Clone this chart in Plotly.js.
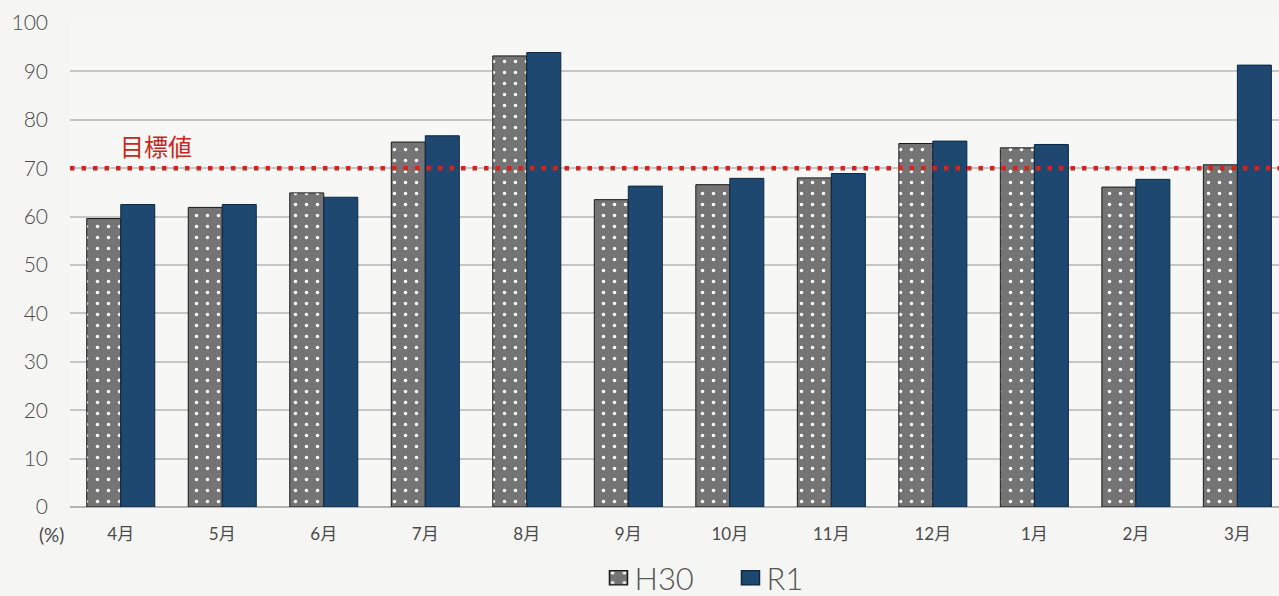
<!DOCTYPE html>
<html>
<head>
<meta charset="utf-8">
<script src="https://cdn.plot.ly/plotly-3.0.1.min.js"></script>
<style>
  html, body { margin: 0; padding: 0; background: #f5f5f3; }
  #chart { width: 1279px; height: 596px; }
</style>
</head>
<body>
<div id="chart"></div>
<script>
// 月別の達成率（%）
const months = ['4月', '5月', '6月', '7月', '8月', '9月', '10月', '11月', '12月', '1月', '2月', '3月'];
const h30 = [59.6, 61.9, 64.9, 75.4, 93.2, 63.5, 66.6, 68.0, 75.1, 74.2, 66.1, 70.7];
const r1 = [62.5, 62.5, 64.0, 76.7, 93.9, 66.3, 67.9, 68.9, 75.6, 74.9, 67.7, 91.3];
const target = 70;
const yTicks = [0, 10, 20, 30, 40, 50, 60, 70, 80, 90, 100];

const tickFont = { family: 'Lato, "Noto Sans CJK JP", sans-serif', color: '#4a4a4a' };

const traces = [
  {
    type: 'bar',
    name: 'H30',
    x: months,
    y: h30,
    marker: {
      color: '#7a7a7a',
      line: { color: '#1a1a1a', width: 1 },
      pattern: { shape: '.', bgcolor: '#747474', fgcolor: '#ffffff', size: 11, solidity: 0.08 }
    },
    hoverinfo: 'x+y+name'
  },
  {
    type: 'bar',
    name: 'R1',
    x: months,
    y: r1,
    marker: {
      color: '#1e4870',
      line: { color: '#0d2740', width: 1 }
    },
    hoverinfo: 'x+y+name'
  }
];

const layout = {
  width: 1279,
  height: 596,
  margin: { l: 70, r: 0, t: 23, b: 89 },
  paper_bgcolor: '#f5f5f3',
  plot_bgcolor: '#f7f7f5',
  barmode: 'group',
  bargap: 0.33,
  bargroupgap: 0,
  showlegend: true,
  legend: {
    orientation: 'h',
    x: 0.543, xanchor: 'center',
    yref: 'container', y: 0.03, yanchor: 'middle',
    font: { family: 'Lato, "Noto Sans", sans-serif', size: 31, weight: 300, color: '#555555' },
    entrywidth: 87,
    bgcolor: 'rgba(0,0,0,0)',
    itemclick: false
  },
  xaxis: {
    type: 'category',
    range: [-0.5, 11.41],
    tickfont: Object.assign({ size: 17 }, tickFont),
    ticks: '',
    ticklabelstandoff: 15,
    showgrid: false,
    zeroline: false,
    showline: false,
    fixedrange: true
  },
  yaxis: {
    range: [0, 100],
    tickvals: yTicks,
    ticktext: yTicks.map(String),
    tickfont: Object.assign({ size: 21, weight: 300 }, tickFont),
    ticklabelstandoff: 21,
    showgrid: true,
    gridcolor: '#c6c6c6',
    gridwidth: 1.5,
    zeroline: true,
    zerolinecolor: '#b4b4b4',
    zerolinewidth: 2,
    showline: false,
    fixedrange: true
  },
  shapes: [
    {
      type: 'line',
      xref: 'paper', x0: 0, x1: 1,
      yref: 'y', y0: target, y1: target,
      line: { color: '#d0261c', width: 4.5, dash: '4.5px,7px' },
      layer: 'above'
    }
  ],
  annotations: [
    {
      text: '目標値',
      xref: 'x', x: -0.03, xanchor: 'left',
      yref: 'y', y: target, yanchor: 'bottom', yshift: 3,
      showarrow: false,
      font: { family: '"Noto Sans CJK JP", sans-serif', size: 24, color: '#c8261c' }
    },
    {
      text: '(%)',
      xref: 'paper', x: 0, xanchor: 'right', xshift: -4,
      yref: 'y', y: 0, yanchor: 'top', yshift: -14,
      showarrow: false,
      font: { family: 'Lato, sans-serif', size: 19, color: '#4a4a4a' }
    }
  ]
};

Plotly.newPlot('chart', traces, layout, { displayModeBar: false }).then(function () {
  // enlarge legend swatches a little
  document.querySelectorAll('.legend .legendpoints path').forEach(function (p) {
    p.setAttribute('transform', 'translate(24,0) scale(1.5,1.2)');
  });
});
</script>
</body>
</html>
